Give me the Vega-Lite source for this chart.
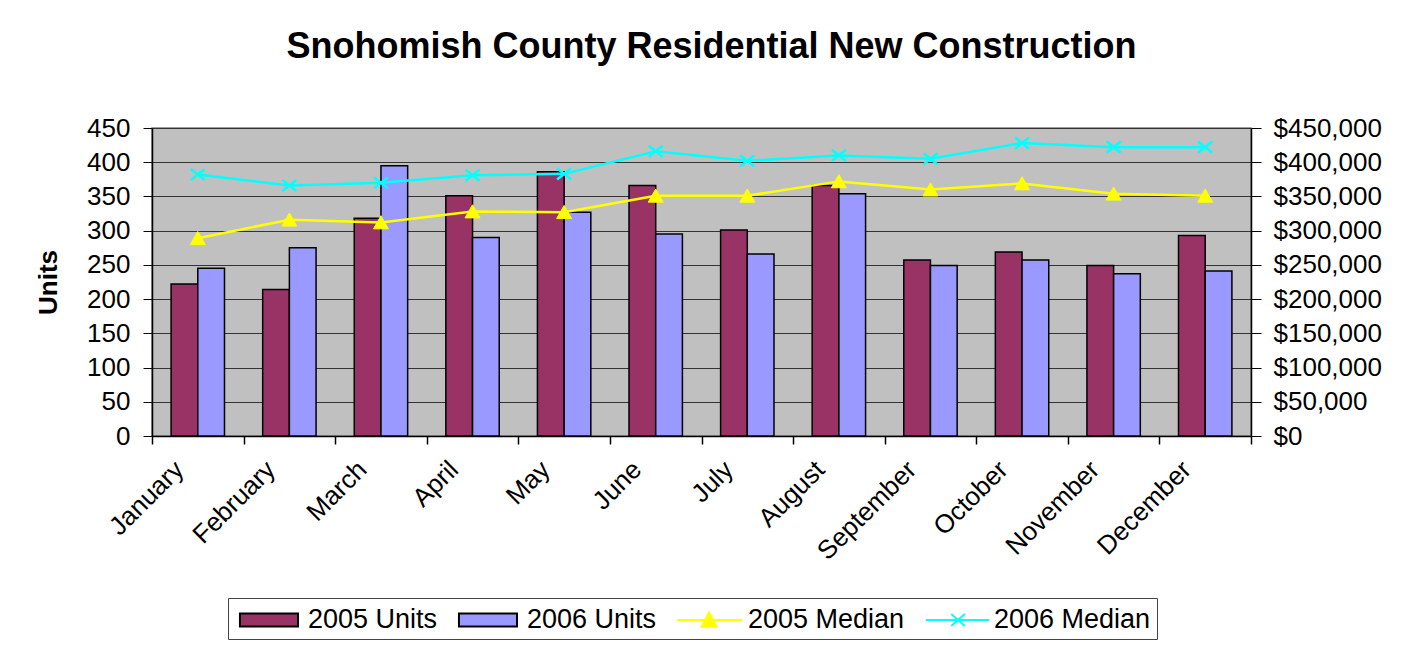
{
  "$schema": "https://vega.github.io/schema/vega-lite/v6.json",
  "width": 1099,
  "height": 308,
  "autosize": {"type": "none"},
  "padding": {"left": 152, "top": 128, "right": 165, "bottom": 220},
  "background": "white",
  "title": {
    "text": "Snohomish County Residential New Construction",
    "font": "Liberation Sans",
    "fontSize": 36,
    "fontWeight": "bold",
    "color": "black",
    "anchor": "middle",
    "dx": 10,
    "offset": 49
  },
  "config": {
    "view": {"fill": "#C0C0C0", "stroke": "#808080", "strokeWidth": 1.5},
    "axis": {"labelFont": "Liberation Sans", "titleFont": "Liberation Sans", "labelColor": "black", "titleColor": "black", "domainColor": "black", "tickColor": "black"}
  },
  "data": {
    "values": [
      {"month": "January", "series": "2005 Units", "value": 222},
      {"month": "January", "series": "2006 Units", "value": 245},
      {"month": "January", "series": "2005 Median", "value": 289000},
      {"month": "January", "series": "2006 Median", "value": 382000},
      {"month": "February", "series": "2005 Units", "value": 214},
      {"month": "February", "series": "2006 Units", "value": 275},
      {"month": "February", "series": "2005 Median", "value": 316000},
      {"month": "February", "series": "2006 Median", "value": 366000},
      {"month": "March", "series": "2005 Units", "value": 318},
      {"month": "March", "series": "2006 Units", "value": 395},
      {"month": "March", "series": "2005 Median", "value": 312000},
      {"month": "March", "series": "2006 Median", "value": 370000},
      {"month": "April", "series": "2005 Units", "value": 351},
      {"month": "April", "series": "2006 Units", "value": 290},
      {"month": "April", "series": "2005 Median", "value": 328000},
      {"month": "April", "series": "2006 Median", "value": 381000},
      {"month": "May", "series": "2005 Units", "value": 386},
      {"month": "May", "series": "2006 Units", "value": 327},
      {"month": "May", "series": "2005 Median", "value": 327000},
      {"month": "May", "series": "2006 Median", "value": 383000},
      {"month": "June", "series": "2005 Units", "value": 366},
      {"month": "June", "series": "2006 Units", "value": 295},
      {"month": "June", "series": "2005 Median", "value": 351000},
      {"month": "June", "series": "2006 Median", "value": 416000},
      {"month": "July", "series": "2005 Units", "value": 301},
      {"month": "July", "series": "2006 Units", "value": 266},
      {"month": "July", "series": "2005 Median", "value": 351000},
      {"month": "July", "series": "2006 Median", "value": 402000},
      {"month": "August", "series": "2005 Units", "value": 366},
      {"month": "August", "series": "2006 Units", "value": 354},
      {"month": "August", "series": "2005 Median", "value": 372000},
      {"month": "August", "series": "2006 Median", "value": 410000},
      {"month": "September", "series": "2005 Units", "value": 257},
      {"month": "September", "series": "2006 Units", "value": 249},
      {"month": "September", "series": "2005 Median", "value": 360000},
      {"month": "September", "series": "2006 Median", "value": 405000},
      {"month": "October", "series": "2005 Units", "value": 269},
      {"month": "October", "series": "2006 Units", "value": 257},
      {"month": "October", "series": "2005 Median", "value": 369000},
      {"month": "October", "series": "2006 Median", "value": 428000},
      {"month": "November", "series": "2005 Units", "value": 249},
      {"month": "November", "series": "2006 Units", "value": 237},
      {"month": "November", "series": "2005 Median", "value": 354000},
      {"month": "November", "series": "2006 Median", "value": 422000},
      {"month": "December", "series": "2005 Units", "value": 293},
      {"month": "December", "series": "2006 Units", "value": 241},
      {"month": "December", "series": "2005 Median", "value": 351000},
      {"month": "December", "series": "2006 Median", "value": 422000}
    ]
  },
  "encoding": {
    "x": {
      "field": "month",
      "type": "nominal",
      "sort": ["January", "February", "March", "April", "May", "June", "July", "August", "September", "October", "November", "December"],
      "scale": {"paddingInner": 0, "paddingOuter": 0},
      "axis": {
        "title": null,
        "labelAngle": -45,
        "labelFontSize": 26,
        "labelPadding": 12,
        "labelOffset": -28,
        "tickBand": "extent",
        "tickSize": 8,
        "domainWidth": 1.5,
        "tickWidth": 1.5
      }
    }
  },
  "layer": [
    {
      "transform": [{"filter": "datum.series === '2005 Units' || datum.series === '2006 Units'"}],
      "mark": {"type": "bar", "stroke": "black", "strokeWidth": 1.5, "opacity": 1},
      "encoding": {
        "xOffset": {"field": "series", "scale": {"domain": ["2005 Units", "2006 Units"], "paddingInner": 0, "paddingOuter": 0.715}},
        "y": {
          "field": "value",
          "type": "quantitative",
          "scale": {"domain": [0, 450], "nice": false},
          "axis": {
            "title": "Units",
            "titleFontSize": 26,
            "titleFontWeight": "bold",
            "titlePadding": 25,
            "labelFontSize": 26,
            "labelPadding": 13,
            "tickSize": 9,
            "values": [0, 50, 100, 150, 200, 250, 300, 350, 400, 450],
            "grid": true,
            "gridColor": "#333333",
            "gridWidth": 1,
            "gridOpacity": 1,
            "domainWidth": 1.5
          }
        },
        "color": {
          "field": "series",
          "type": "nominal",
          "scale": {
            "domain": ["2005 Units", "2006 Units", "2005 Median", "2006 Median"],
            "range": ["#993366", "#9999FF", "#FFFF00", "#00FFFF"]
          },
          "legend": {
            "title": null,
            "orient": "none",
            "legendX": 76,
            "legendY": 470,
            "direction": "horizontal",
            "labelFont": "Liberation Sans",
            "labelFontSize": 27,
            "labelColor": "black",
            "labelOffset": 42,
            "symbolSize": 900,
            "symbolStrokeWidth": 2,
            "symbolOpacity": 1,
            "symbolType": {"expr": "datum.value === '2005 Units' || datum.value === '2006 Units' ? 'M-0.67,-0.43H3.2V0.43H-0.67Z' : datum.value === '2005 Median' ? 'M-0.87,0H3.47M1.27,-0.5L1.77,0.45L0.77,0.45Z' : 'M-0.67,0H3.53M1.02,-0.4L1.92,0.4M1.02,0.4L1.92,-0.4'"},
            "symbolStrokeColor": {"expr": "datum.value === '2005 Units' || datum.value === '2006 Units' ? 'black' : datum.value === '2005 Median' ? '#FFFF00' : '#00FFFF'"},
            "columnPadding": 15,
            "padding": 6,
            "strokeColor": "#444444",
            "fillColor": "white",
            "labelLimit": 300
          }
        }
      }
    },
    {
      "transform": [{"filter": "datum.series === '2005 Median' || datum.series === '2006 Median'"}],
      "encoding": {
        "y": {
          "field": "value",
          "type": "quantitative",
          "scale": {"domain": [0, 450000], "nice": false},
          "axis": {
            "orient": "right",
            "title": null,
            "format": "$,.0f",
            "labelFontSize": 26,
            "labelPadding": 12,
            "tickSize": 10,
            "values": [0, 50000, 100000, 150000, 200000, 250000, 300000, 350000, 400000, 450000],
            "grid": false,
            "domainWidth": 1.5
          }
        }
      },
      "layer": [
        {
          "transform": [{"filter": "datum.series === '2005 Median'"}],
          "mark": {"type": "line", "strokeWidth": 2.5, "color": "#FFFF00"},
          "encoding": {}
        },
        {
          "transform": [{"filter": "datum.series === '2006 Median'"}],
          "mark": {"type": "line", "strokeWidth": 2.5, "color": "#00FFFF"},
          "encoding": {}
        },
        {
          "transform": [{"filter": "datum.series === '2005 Median'"}],
          "mark": {"type": "point", "shape": "M0,-0.9L1,0.85L-1,0.85Z", "size": 225, "filled": true, "fill": "#FFFF00", "stroke": "#FFFF00", "strokeWidth": 1, "opacity": 1},
          "encoding": {}
        },
        {
          "transform": [{"filter": "datum.series === '2006 Median'"}],
          "mark": {"type": "point", "shape": "M-1,-0.8L1,0.8M-1,0.8L1,-0.8", "size": 196, "filled": false, "stroke": "#00FFFF", "strokeWidth": 2.5, "opacity": 1},
          "encoding": {}
        }
      ]
    }
  ],
  "resolve": {"scale": {"y": "independent"}}
}
